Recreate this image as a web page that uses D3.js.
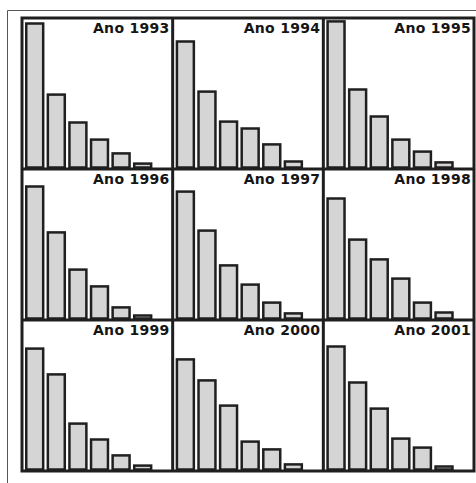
<!DOCTYPE html>
<html>
<head>
<meta charset="utf-8">
<script src="https://cdn.jsdelivr.net/npm/d3@7"></script>
<style>
	body { margin: 0; background: #ffffff; }
	svg { display: block; }
	.title { font-family: "DejaVu Sans", sans-serif; font-weight: bold; font-size: 14px; letter-spacing: 0.3px; fill: #151515; }
</style>
</head>
<body>
<svg id="chart" width="476" height="483"></svg>
<script>
// bins (7 classes, the last one is empty) and yearly frequencies (%)
const bins = [1, 2, 3, 4, 5, 6, 7];
const years = ['1993', '1994', '1995', '1996', '1997', '1998', '1999', '2000', '2001'];

const values1993 = [48.0, 24.3, 15.0, 9.3, 4.7, 1.3, 0];
const values1994 = [42.0, 25.3, 15.3, 13.0, 7.7, 2.0, 0];
const values1995 = [48.7, 26.0, 17.0, 9.3, 5.3, 1.7, 0];
const values1996 = [44.0, 28.7, 16.3, 10.7, 3.7, 1.0, 0];
const values1997 = [42.3, 29.3, 17.7, 11.3, 5.3, 1.7, 0];
const values1998 = [40.0, 26.3, 19.7, 13.3, 5.3, 2.0, 0];
const values1999 = [40.3, 31.7, 15.3, 10.0, 4.7, 1.3, 0];
const values2000 = [36.7, 29.7, 21.3, 9.3, 6.7, 1.7, 0];
const values2001 = [41.0, 29.0, 20.3, 10.3, 7.3, 1.0, 0];

const series = [values1993, values1994, values1995, values1996, values1997,
	values1998, values1999, values2000, values2001];

const yMax = 50;

//-- layout --//

const grid = { left: 22, top: 18, right: 474, bottom: 471, cols: 3, rows: 3 };
const colWidth = (grid.right - grid.left) / grid.cols;
const rowHeight = (grid.bottom - grid.top) / grid.rows;
const lineColor = '#1f1f1f';

const svg = d3.select('#chart');

drawFrame();
years.forEach(function(year, i) { drawPanel(year, series[i], i); });
drawGrid();

//-- functions --//

function drawFrame() {
	// thin outer frame of the scanned figure
	svg.append('path')
		.attr('d', 'M7.5,483 V10.5 H476')
		.attr('fill', 'none')
		.attr('stroke', '#555')
		.attr('stroke-width', 1);
}

function drawPanel(year, values, index) {
	let col = index % grid.cols;
	let row = Math.floor(index / grid.cols);
	let left = grid.left + col * colWidth;
	let top = grid.top + row * rowHeight;
	let baseline = top + rowHeight - 1.5;

	let xScale = d3.scaleBand()
		.domain(bins)
		.range([ left + 3, left + 152 ])
		.paddingInner(0.1)
		.paddingOuter(0);
	let yScale = d3.scaleLinear()
		.domain([ 0, yMax ])
		.range([ baseline, baseline - 150 ]);

	let g = svg.append('g').attr('class', 'panel');

	g.selectAll('rect')
		.data(values)
		.join('rect')
		.attr('x', function(d, i) { return xScale(bins[i]) + 1.25; })
		.attr('y', function(d) { return yScale(d); })
		.attr('width', xScale.bandwidth() - 2.5)
		.attr('height', function(d) { return baseline - yScale(d); })
		.attr('fill', '#d5d5d5')
		.attr('stroke', lineColor)
		.attr('stroke-width', 2.5);

	g.append('text')
		.attr('class', 'title')
		.attr('x', left + colWidth - 3)
		.attr('y', top + 15)
		.attr('text-anchor', 'end')
		.text('Ano ' + year);
}

function drawGrid() {
	let g = svg.append('g').attr('class', 'grid');

	g.append('rect')
		.attr('x', grid.left)
		.attr('y', grid.top)
		.attr('width', grid.right - grid.left)
		.attr('height', grid.bottom - grid.top)
		.attr('fill', 'none')
		.attr('stroke', lineColor)
		.attr('stroke-width', 3);

	d3.range(1, grid.cols).forEach(function(c) {
		let x = grid.left + c * colWidth;
		g.append('line')
			.attr('x1', x).attr('x2', x)
			.attr('y1', grid.top).attr('y2', grid.bottom)
			.attr('stroke', lineColor)
			.attr('stroke-width', 3);
	});

	d3.range(1, grid.rows).forEach(function(r) {
		let y = grid.top + r * rowHeight;
		g.append('line')
			.attr('x1', grid.left).attr('x2', grid.right)
			.attr('y1', y).attr('y2', y)
			.attr('stroke', lineColor)
			.attr('stroke-width', 3);
	});
}
</script>
</body>
</html>
